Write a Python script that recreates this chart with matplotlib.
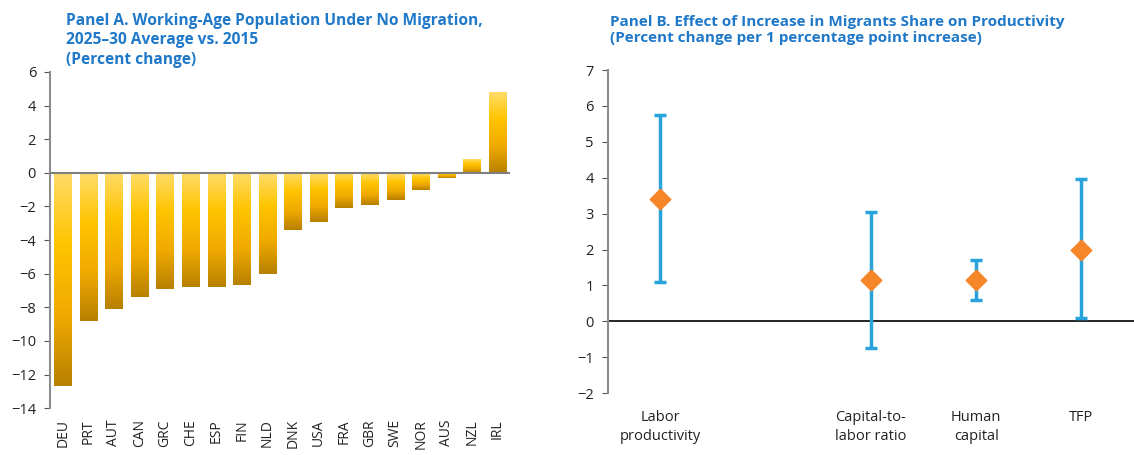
import matplotlib
matplotlib.use("Agg")
import matplotlib.pyplot as plt
import numpy as np
from matplotlib.colors import LinearSegmentedColormap

plt.rcParams['font.family'] = ['Open Sans', 'DejaVu Sans']

# Panel A data
countries = ["DEU", "PRT", "AUT", "CAN", "GRC", "CHE", "ESP", "FIN", "NLD",
             "DNK", "USA", "FRA", "GBR", "SWE", "NOR", "AUS", "NZL", "IRL"]
pop_change = [-12.7, -8.8, -8.1, -7.4, -6.9, -6.8, -6.8, -6.7, -6.0,
              -3.4, -2.9, -2.1, -1.9, -1.6, -1.0, -0.3, 0.8, 4.8]

# Panel B data
categories = ["Labor\nproductivity", "Capital-to-\nlabor ratio", "Human\ncapital", "TFP"]
cat_pos = [0.5, 2.5, 3.5, 4.5]
effect = [3.4, 1.15, 1.15, 2.0]
lower = [1.1, -0.75, 0.6, 0.1]
upper = [5.75, 3.05, 1.7, 3.97]

title_color = "#1F78C8"
tick_color = "#222222"

fig = plt.figure(figsize=(11.34, 4.55), dpi=100)

# ---- Panel A ----
axA = fig.add_axes([0.044, 0.103, 0.406, 0.739])
cmap = LinearSegmentedColormap.from_list("gold", ["#FFDC6A", "#FFC400", "#F0AA00", "#B88000"])
grad = np.linspace(0, 1, 256).reshape(-1, 1)
width = 0.67
bars = axA.bar(range(len(countries)), pop_change, width=width, color="none", edgecolor="none")
for b in bars:
    x0 = b.get_x()
    y0 = b.get_y()
    h = b.get_height()
    top, bot = max(y0, y0 + h), min(y0, y0 + h)
    axA.imshow(grad, cmap=cmap, extent=(x0, x0 + width, bot, top),
               aspect="auto", origin="upper", zorder=2)
axA.axhline(0, color="#7F7F7F", lw=1.5, zorder=3)
axA.set_xlim(-0.5, len(countries) - 0.5)
axA.set_ylim(-14, 6)
axA.set_yticks(range(-14, 7, 2))
axA.set_xticks(range(len(countries)))
axA.set_xticklabels(countries, rotation=90, fontsize=10, color=tick_color)
axA.tick_params(axis="x", length=0, pad=8)
axA.tick_params(axis="y", direction="out", length=4, color="#555555", labelsize=10.5,
                labelcolor=tick_color, pad=6)
for s in ["top", "right", "bottom"]:
    axA.spines[s].set_visible(False)
axA.spines["left"].set_color("#8C8C8C")
axA.spines["left"].set_linewidth(1.5)
fig.text(0.058, 0.972, "Panel A. Working-Age Population Under No Migration,\n2025\u201330 Average vs. 2015\n(Percent change)",
         color=title_color, fontsize=11.2, fontweight="bold", ha="left", va="top", linespacing=1.3)

# ---- Panel B ----
axB = fig.add_axes([0.536, 0.136, 0.464, 0.71])
yerr = [np.array(effect) - np.array(lower), np.array(upper) - np.array(effect)]
axB.errorbar(cat_pos, effect, yerr=yerr, fmt="none", ecolor="#29A3DC", elinewidth=2.5,
             capsize=4, capthick=2.5, zorder=2)
axB.scatter(cat_pos, effect, marker="D", s=110, color="#F7862A", zorder=3)
axB.axhline(0, color="black", lw=1.2, zorder=1)
axB.set_xlim(0, 5)
axB.set_ylim(-2, 7)
axB.set_yticks(range(-2, 8))
axB.set_xticks(cat_pos)
axB.set_xticklabels(categories, fontsize=10.5, color=tick_color, linespacing=1.4)
axB.tick_params(axis="x", length=0, pad=12)
axB.tick_params(axis="y", direction="out", length=4, color="#555555", labelsize=10.5,
                labelcolor=tick_color, pad=6)
for s in ["top", "right", "bottom"]:
    axB.spines[s].set_visible(False)
axB.spines["left"].set_color("#8C8C8C")
axB.spines["left"].set_linewidth(1.5)
fig.text(0.538, 0.966, "Panel B. Effect of Increase in Migrants Share on Productivity\n(Percent change per 1 percentage point increase)",
         color=title_color, fontsize=11, fontweight="bold", ha="left", va="top", linespacing=1.15)

fig.savefig("out.png", dpi=100)
